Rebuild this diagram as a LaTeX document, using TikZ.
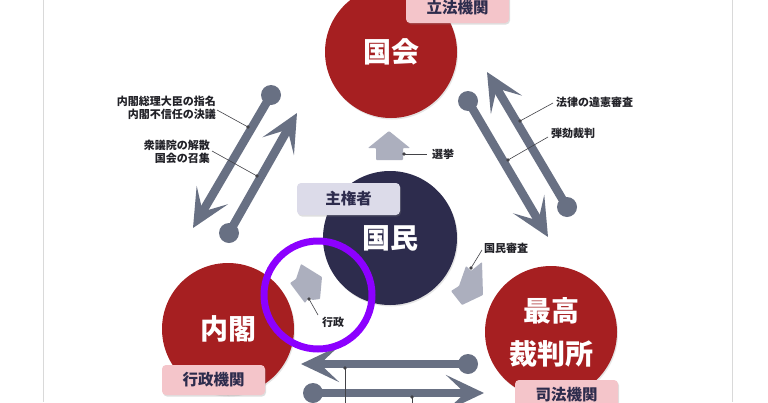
\documentclass[tikz,border=0pt]{standalone}
\usepackage{fontspec}
\setmainfont{Noto Sans CJK JP}
\usetikzlibrary{arrows.meta,shadows}
\definecolor{kred}{RGB}{166,31,33}
\definecolor{navy}{RGB}{45,44,77}
\definecolor{pinkbox}{RGB}{244,197,202}
\definecolor{lavbox}{RGB}{220,219,233}
\definecolor{arrgray}{RGB}{104,112,131}
\definecolor{lightarr}{RGB}{172,175,190}
\definecolor{ringc}{RGB}{140,0,255}
\definecolor{framec}{RGB}{217,217,217}
\definecolor{lbl}{RGB}{34,34,40}
\tikzset{
 body/.style={circle, inner sep=0pt, minimum size=132pt, text=white,
   font=\fontsize{28}{43}\selectfont\bfseries, align=center,
   drop shadow={opacity=0.2, shadow xshift=1pt, shadow yshift=-1.5pt}},
 tagbox/.style={rounded corners=4pt, minimum width=103pt, minimum height=30pt,
   inner sep=0pt, text=navy, font=\fontsize{15.5}{18}\selectfont\bfseries,
   drop shadow={opacity=0.25, shadow xshift=1pt, shadow yshift=-1.5pt}},
 bigarr/.style={draw=arrgray, line width=8.5pt, -{Stealth[length=38pt,width=36pt,inset=19pt]}},
 ball/.style={fill=arrgray},
 smallarr/.style={fill=lightarr, rounded corners=0.8pt},
 leader/.style={draw=lbl!85, line width=0.6pt},
 ldot/.style={fill=lbl!85},
 small/.style={text=lbl, font=\fontsize{11}{12.5}\selectfont\bfseries, inner sep=0pt},
}
\begin{document}
\begin{tikzpicture}[x=1pt, y=-1pt]
\useasboundingbox (0,0) rectangle (768,402);
\fill[white] (0,0) rectangle (768,402);
\clip (0,0) rectangle (768,402);
% frame lines
\coordinate (fl1) at (43.5,0); \coordinate (fl2) at (43.5,402);
\coordinate (fr1) at (732.5,0); \coordinate (fr2) at (732.5,402);
\draw[framec, line width=1pt] (fl1) -- (fl2);
\draw[framec, line width=1pt] (fr1) -- (fr2);

% big arrows: coordinates
\coordinate (L1b) at (271,95);  \coordinate (L1t) at (193,228);
\coordinate (L2b) at (229,233); \coordinate (L2t) at (297,113);
\coordinate (R1b) at (468,101); \coordinate (R1t) at (548,237);
\coordinate (R2b) at (567,207); \coordinate (R2t) at (487,72);
\coordinate (B1b) at (468,364); \coordinate (B1t) at (301,364);
\coordinate (B2b) at (313,393); \coordinate (B2t) at (484,393);
\foreach \p in {L1,L2,R1,R2,B1,B2}{
  \draw[bigarr] (\p b) -- (\p t);
  \fill[ball] (\p b) circle (10pt);
}

% bodies
\node[body, fill=kred] (kokkai) at (391,52) {国会};
\node[body, fill=navy, minimum size=134pt] (kokumin) at (390,238) {国民};
\node[body, fill=kred] (naikaku) at (228,329) {内閣};
\node[body, fill=kred] (saiko) at (551,332) {最高\\裁判所};

% tag boxes
\node[tagbox, fill=pinkbox] (rippo) at (457.5,8) {立法機関};
\node[tagbox, fill=lavbox, minimum height=32pt] (shuken) at (348.5,199) {主権者};
\node[tagbox, fill=pinkbox] (gyosei) at (213.5,380) {行政機関};
\node[tagbox, fill=pinkbox] (shiho) at (566.5,395) {司法機関};

% small arrows
\fill[smallarr] (389,131) -- (410,148) -- (403,148) -- (403,160) -- (376,160) -- (376,148) -- (368,148) -- cycle;
\fill[smallarr] (301,264) -- (322,277) -- (320,299) -- (312,300) -- (309,297) -- (305,303) -- (290,283) -- (296,279) -- cycle;
\fill[smallarr] (466,266) -- (471,271) -- (482,262) -- (483,295) -- (462,305) -- (451,291) -- (459,286) -- cycle;

% leader lines
\coordinate (dA) at (248,127); \coordinate (eA) at (217,110);
\coordinate (dB) at (257,176); \coordinate (eB) at (212,151);
\coordinate (dC) at (520,121); \coordinate (eC) at (553,103);
\coordinate (dD) at (508,160); \coordinate (eD) at (548,137);
\coordinate (dE) at (404,154); \coordinate (eE) at (427,154);
\coordinate (dF) at (471,268); \coordinate (eF) at (482,250);
\coordinate (dG) at (309,299); \coordinate (eG) at (318,315);
\coordinate (dH) at (345,368); \coordinate (eH) at (345,410);
\coordinate (dI) at (412,397); \coordinate (eI) at (412,410);
\foreach \q in {A,B,C,D,E,F,G,H,I}{
  \draw[leader] (d\q) -- (e\q);
  \fill[ldot] (d\q) circle (1.8pt);
}

% labels
\node[small, anchor=east, align=right] (lab1) at (216,108) {内閣総理大臣の指名\\内閣不信任の決議};
\node[small, anchor=east, align=right] (lab2) at (210,152) {衆議院の解散\\国会の召集};
\node[small, anchor=west] (lab3) at (556,102) {法律の違憲審査};
\node[small, anchor=west] (lab4) at (551,133) {弾劾裁判};
\node[small, anchor=west] (lab5) at (432,154) {選挙};
\node[small, anchor=west] (lab6) at (484,248) {国民審査};
\node[small, anchor=west] (lab7) at (322,322) {行政};

% purple ring
\draw[ringc, line width=7pt] (318,295) circle (54pt);
\end{tikzpicture}
\end{document}
